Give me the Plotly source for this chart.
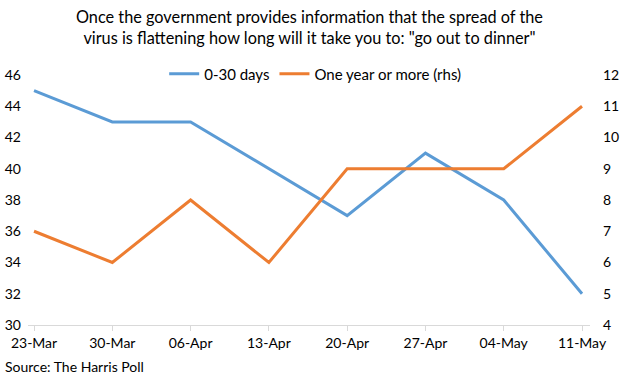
import plotly.graph_objects as go

dates = ["23-Mar", "30-Mar", "06-Apr", "13-Apr", "20-Apr", "27-Apr", "04-May", "11-May"]
days_0_30 = [45, 43, 43, 40, 37, 41, 38, 32]
one_year_plus = [7, 6, 8, 6, 9, 9, 9, 11]
left_ticks = [30, 32, 34, 36, 38, 40, 42, 44, 46]
right_ticks = [4, 5, 6, 7, 8, 9, 10, 11, 12]

FONT = "Lato"
PLOT_TOP, PLOT_BOTTOM = 75, 325
H = PLOT_BOTTOM - PLOT_TOP


def py(pix):
    return (PLOT_BOTTOM - pix) / H


fig = go.Figure()
fig.add_trace(go.Scatter(x=dates, y=days_0_30, mode="lines", name="0-30 days",
                         line=dict(color="#5B9BD5", width=3)))
fig.add_trace(go.Scatter(x=dates, y=one_year_plus, mode="lines", name="One year or more (rhs)",
                         line=dict(color="#ED7D31", width=3), yaxis="y2"))

fig.update_layout(
    width=624, height=375,
    margin=dict(l=28, r=34, t=PLOT_TOP, b=375 - PLOT_BOTTOM, autoexpand=False),
    paper_bgcolor="white", plot_bgcolor="white",
    font=dict(family=FONT, size=14, color="black"),
    showlegend=True,
    legend=dict(orientation="h", x=0.511, xanchor="center", y=py(74), yanchor="middle",
                font=dict(family=FONT, size=15), bgcolor="rgba(0,0,0,0)",
                itemwidth=30, tracegroupgap=0),
    xaxis=dict(type="category", range=[-0.077, 7.102], showgrid=False,
               showline=True, linecolor="#D9D9D9", linewidth=1,
               ticks="outside", ticklen=5, tickcolor="#D9D9D9",
               tickfont=dict(size=14), automargin=False),
    yaxis=dict(range=[30, 46], tickvals=left_ticks, showgrid=False, zeroline=False,
               showline=False, ticks="", tickfont=dict(size=14), automargin=False,
               ticklabelstandoff=6),
    yaxis2=dict(range=[4, 12], tickvals=right_ticks, overlaying="y", side="right",
                showgrid=False, zeroline=False, showline=False, ticks="",
                tickfont=dict(size=14), automargin=False, ticklabelstandoff=12),
    annotations=[
        dict(text="Once the government provides information that the spread of the<br>virus is flattening how long will it take you to: \"go out to dinner\"",
             xref="paper", yref="paper", x=0.5, y=py(27), xanchor="center", yanchor="middle",
             showarrow=False, align="center", font=dict(family=FONT, size=16.3, color="black")),
        dict(text="Source: The Harris Poll", xref="paper", yref="paper",
             x=-0.045, y=py(366), xanchor="left", yanchor="middle", showarrow=False,
             font=dict(family=FONT, size=14)),
    ],
)
fig.write_html("out.html", config={"displayModeBar": False},
               post_script="document.body.style.margin='0px';")
